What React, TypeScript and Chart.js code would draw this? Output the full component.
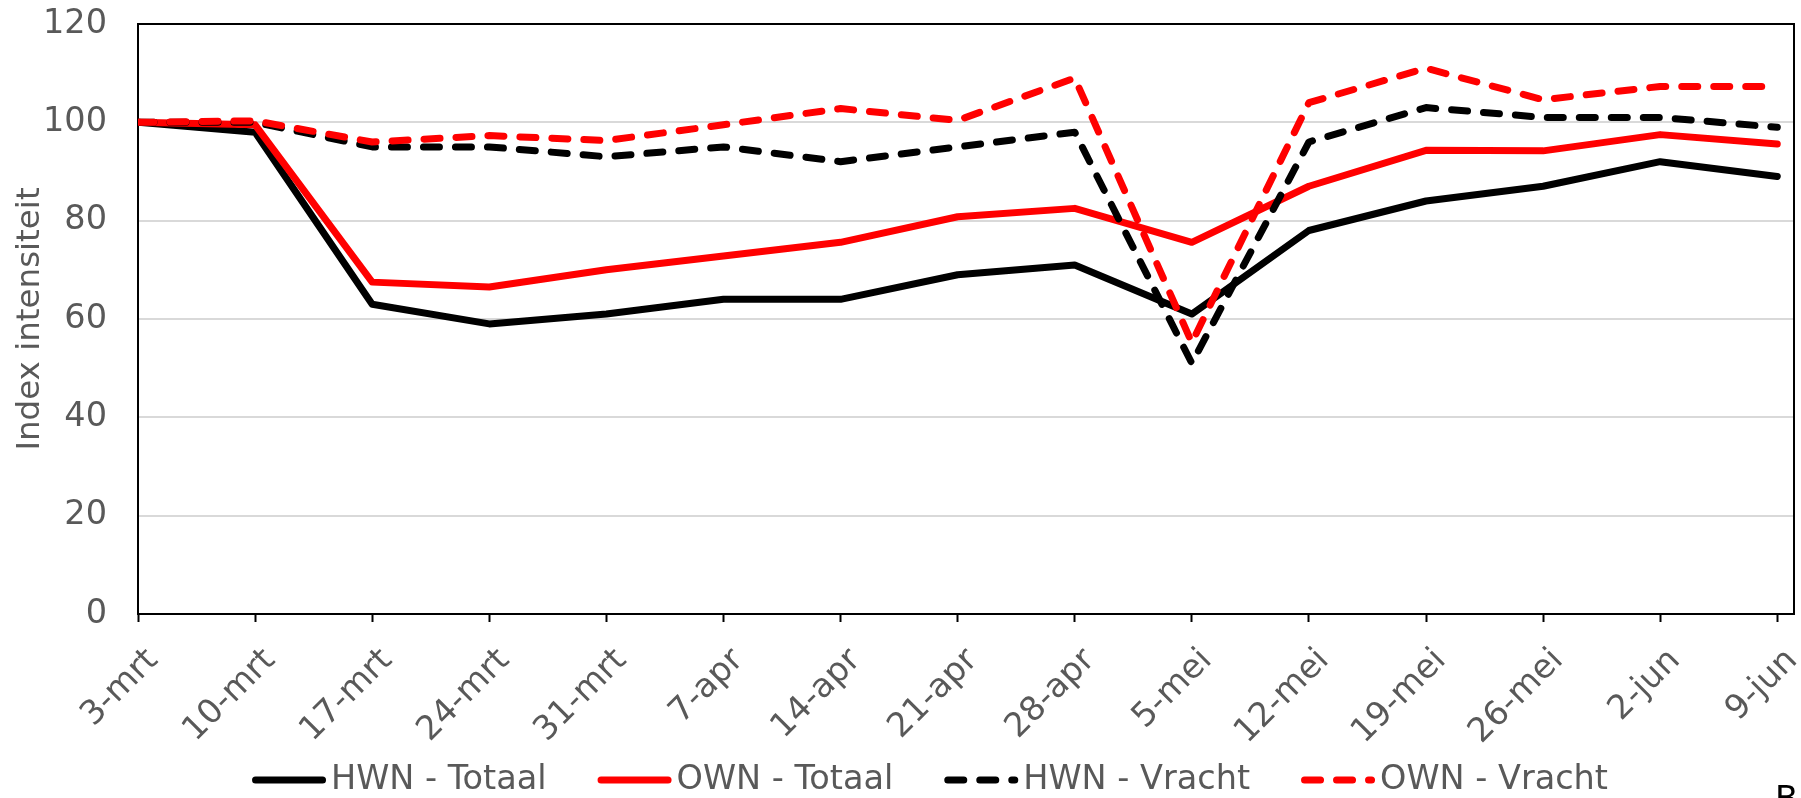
import React, { useEffect, useRef } from 'react';
import { Chart, registerables } from 'chart.js';

Chart.register(...registerables);

// ---- data ----
const categories = ['3-mrt', '10-mrt', '17-mrt', '24-mrt', '31-mrt', '7-apr', '14-apr', '21-apr', '28-apr', '5-mei', '12-mei', '19-mei', '26-mei', '2-jun', '9-jun'];
const seriesLabels = ['HWN - Totaal', 'OWN - Totaal', 'HWN - Vracht', 'OWN - Vracht'];
const hwnTotaal = [100, 98, 63, 59, 61, 64, 64, 69, 71, 61, 78, 84, 87, 92, 89];
const ownTotaal = [100, 99.5, 67.5, 66.5, 70, 72.8, 75.6, 80.8, 82.5, 75.6, 87, 94.3, 94.2, 97.5, 95.6];
const hwnVracht = [100, 100, 95, 95, 93, 95, 92, 95, 98, 51, 96, 103, 101, 101, 99];
const ownVracht = [100, 100.3, 96, 97.3, 96.3, 99.5, 102.8, 100.4, 109, 55.2, 104, 111, 104.6, 107.3, 107.3];
const yMin = 0;
const yMax = 120;
const yStep = 20;
const daysPerCategory = 7;
const axisEndDays = 99; // date axis runs to 10-jun
const sourceText = 'Bron: Rijkswaterstaat';

const FONT = "'DejaVu Sans', Verdana, sans-serif";
const FSIZE = 33.5;
const TEXT = '#595959';

const toPoints = (vals: number[]) => vals.map((v, i) => ({ x: i * daysPerCategory, y: v }));

const framePlugin = {
  id: 'frame',
  beforeDatasetsDraw(chart: any) {
    const { ctx, chartArea: a } = chart;
    ctx.save();
    ctx.strokeStyle = '#000';
    ctx.lineWidth = 2;
    ctx.strokeRect(a.left, a.top, a.right - a.left, a.bottom - a.top);
    ctx.restore();
  },
};

const legendPlugin = {
  id: 'customLegend',
  afterDraw(chart: any) {
    const { ctx } = chart;
    const ds = chart.data.datasets;
    const sample = 74;
    const gapText = 5;
    const gapItem = 51;
    const cy = 780;
    ctx.save();
    ctx.font = `${FSIZE}px ${FONT}`;
    const widths = ds.map((d: any) => sample + gapText + ctx.measureText(d.label).width);
    const total = widths.reduce((s: number, w: number) => s + w, 0) + gapItem * (ds.length - 1);
    let x = 930 - total / 2;
    ds.forEach((d: any, i: number) => {
      ctx.beginPath();
      ctx.strokeStyle = d.borderColor;
      ctx.lineWidth = d.borderWidth;
      ctx.lineCap = 'round';
      ctx.setLineDash(d.borderDash || []);
      ctx.moveTo(x + 3.5, cy);
      ctx.lineTo(x + sample - 3.5, cy);
      ctx.stroke();
      ctx.setLineDash([]);
      ctx.fillStyle = TEXT;
      ctx.textBaseline = 'middle';
      ctx.textAlign = 'left';
      ctx.fillText(d.label, x + sample + gapText, cy);
      x += widths[i] + gapItem;
    });
    ctx.fillStyle = '#000';
    ctx.textBaseline = 'alphabetic';
    ctx.fillText(sourceText, 1775, 810);
    ctx.restore();
  },
};

export default function App() {
  const ref = useRef<HTMLCanvasElement | null>(null);
  useEffect(() => {
    document.body.style.margin = '0';
    if (!ref.current) return;
    const dash = [16, 16];
    const chart = new Chart(ref.current, {
      type: 'line',
      data: {
        datasets: [
          { label: seriesLabels[0], data: toPoints(hwnTotaal), borderColor: '#000000', backgroundColor: '#000000', borderWidth: 7, order: 4 },
          { label: seriesLabels[1], data: toPoints(ownTotaal), borderColor: '#ff0000', backgroundColor: '#ff0000', borderWidth: 7, order: 3 },
          { label: seriesLabels[2], data: toPoints(hwnVracht), borderColor: '#000000', backgroundColor: '#000000', borderWidth: 7, borderDash: dash, order: 2 },
          { label: seriesLabels[3], data: toPoints(ownVracht), borderColor: '#ff0000', backgroundColor: '#ff0000', borderWidth: 7, borderDash: dash, order: 1 },
        ] as any,
      },
      options: {
        responsive: false,
        animation: false,
        layout: { padding: { top: 24, right: 7, bottom: 0, left: 0 } },
        elements: {
          point: { radius: 0, hoverRadius: 0 },
          line: { tension: 0, borderCapStyle: 'round', borderJoinStyle: 'round' },
        },
        plugins: { legend: { display: false }, tooltip: { enabled: false } },
        scales: {
          x: {
            type: 'linear',
            min: 0,
            max: axisEndDays,
            ticks: {
              stepSize: daysPerCategory,
              includeBounds: false,
              autoSkip: false,
              minRotation: 45,
              maxRotation: 45,
              padding: 19,
              labelOffset: 15,
              color: TEXT,
              font: { family: FONT, size: FSIZE },
              callback: (v: any) => categories[Math.round(Number(v) / daysPerCategory)] ?? '',
            },
            grid: { drawOnChartArea: false, drawTicks: true, tickLength: 8, tickColor: '#000', tickWidth: 2 },
            border: { display: true, color: '#000', width: 2 },
            afterFit: (s: any) => { s.height = 184; s.paddingLeft = 0; s.paddingRight = 0; },
          },
          y: {
            min: yMin,
            max: yMax,
            ticks: { stepSize: yStep, padding: 31, color: TEXT, font: { family: FONT, size: FSIZE } },
            grid: { color: '#d9d9d9', lineWidth: 2, drawTicks: false },
            border: { display: true, color: '#000', width: 2 },
            title: { display: true, text: 'Index intensiteit', color: TEXT, font: { family: FONT, size: 32.5 }, padding: { top: 11, bottom: 0 } },
            afterFit: (s: any) => { s.width = 138; s.paddingTop = 0; s.paddingBottom = 0; },
          },
        },
      } as any,
      plugins: [framePlugin, legendPlugin],
    });
    return () => chart.destroy();
  }, []);
  return (
    <div style={{ position: 'absolute', left: 0, top: 0, width: 1801, height: 798 }}>
      <canvas ref={ref} width={1801} height={798} style={{ width: 1801, height: 798, display: 'block' }} />
    </div>
  );
}
